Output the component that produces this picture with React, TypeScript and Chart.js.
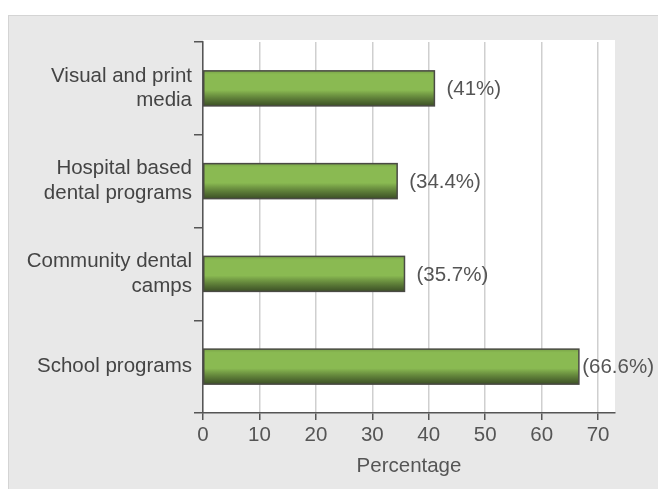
import React, { useEffect, useRef } from "react";
import { Chart, registerables } from "chart.js";

Chart.register(...registerables);

const categories: string[][] = [
  ["Visual and print", "media"],
  ["Hospital based", "dental programs"],
  ["Community dental", "camps"],
  ["School programs"],
];
const values: number[] = [41, 34.4, 35.7, 66.6];
const valueLabels: string[] = ["(41%)", "(34.4%)", "(35.7%)", "(66.6%)"];
const xMin = 0;
const xMax = 73;
const xStep = 10;
const axisTitle = "Percentage";

const FONT = '"Liberation Sans", Arial, Helvetica, sans-serif';
const FS = 20.5;
const W = 650;
const H = 474;

const plotBg = {
  id: "plotBg",
  beforeDraw(chart: any) {
    const { ctx, chartArea: a } = chart;
    ctx.save();
    ctx.fillStyle = "#ffffff";
    ctx.fillRect(a.left, a.top - 2, a.right - a.left, a.bottom - a.top + 2);
    ctx.restore();
  },
};

const barDeco = {
  id: "barDeco",
  afterDatasetsDraw(chart: any) {
    const meta = chart.getDatasetMeta(0);
    const ctx = chart.ctx;
    ctx.save();
    meta.data.forEach((el: any, i: number) => {
      const { x, y, base, height } = el.getProps(["x", "y", "base", "height"], true);
      const top = y - height / 2;
      const bot = y + height / 2;
      const g = ctx.createLinearGradient(0, top, 0, bot);
      g.addColorStop(0, "rgba(0,0,0,0.12)");
      g.addColorStop(0.1, "rgba(0,0,0,0)");
      g.addColorStop(0.55, "rgba(0,0,0,0)");
      g.addColorStop(1, "rgba(20,25,15,0.65)");
      ctx.fillStyle = g;
      ctx.fillRect(base, top, x - base, height);
      ctx.strokeStyle = "#4a4a44";
      ctx.lineWidth = 1.5;
      ctx.strokeRect(base, top, x - base, height);
      ctx.font = FS + "px " + FONT;
      ctx.fillStyle = "#555555";
      ctx.textBaseline = "middle";
      ctx.textAlign = "left";
      const w = ctx.measureText(valueLabels[i]).width;
      const lx = Math.min(x + 12, chart.width - w - 4);
      ctx.fillText(valueLabels[i], lx, y + 1);
    });
    ctx.restore();
  },
};

export default function App() {
  const ref = useRef<HTMLCanvasElement | null>(null);
  useEffect(() => {
    if (!ref.current) return;
    const chart = new Chart(ref.current, {
      type: "bar",
      data: {
        labels: categories as any,
        datasets: [
          {
            data: values,
            backgroundColor: "#8aba52",
            borderWidth: 0,
            barPercentage: 0.755,
            categoryPercentage: 0.5,
          },
        ],
      },
      options: {
        indexAxis: "y",
        animation: false,
        responsive: false,
        maintainAspectRatio: false,
        layout: { padding: { top: 27, right: 43, left: 0, bottom: 0 } },
        plugins: { legend: { display: false }, tooltip: { enabled: false } },
        scales: {
          x: {
            min: xMin,
            max: xMax,
            ticks: {
              stepSize: xStep,
              includeBounds: false,
              color: "#555",
              font: { size: FS, family: FONT },
              padding: 3,
            },
            grid: { color: "#cfcfcf", lineWidth: 1.5, tickColor: "#555", tickLength: 7 },
            border: { color: "#555", width: 1.5 },
            title: {
              display: true,
              text: axisTitle,
              color: "#555",
              font: { size: FS, family: FONT },
              padding: { top: 4, bottom: 10 },
            },
            afterFit: (s: any) => {
              s.height = 76;
            },
          },
          y: {
            ticks: { color: "#444", font: { size: FS, family: FONT }, padding: 2 },
            grid: {
              drawOnChartArea: false,
              tickLength: 9,
              color: "#555",
              lineWidth: 1.5,
              offset: true,
            },
            border: { color: "#555", width: 1.5 },
            afterFit: (s: any) => {
              s.width = 195;
            },
          },
        },
      } as any,
      plugins: [plotBg, barDeco],
    });
    return () => chart.destroy();
  }, []);

  return (
    <div
      style={{
        position: "absolute",
        left: 8,
        top: 15,
        width: W,
        height: H,
        background: "#e8e8e8",
        boxShadow: "inset 1px 1px 0 #d4d4d4",
      }}
    >
      <canvas ref={ref} width={W} height={H} style={{ display: "block", width: W, height: H }} />
    </div>
  );
}
